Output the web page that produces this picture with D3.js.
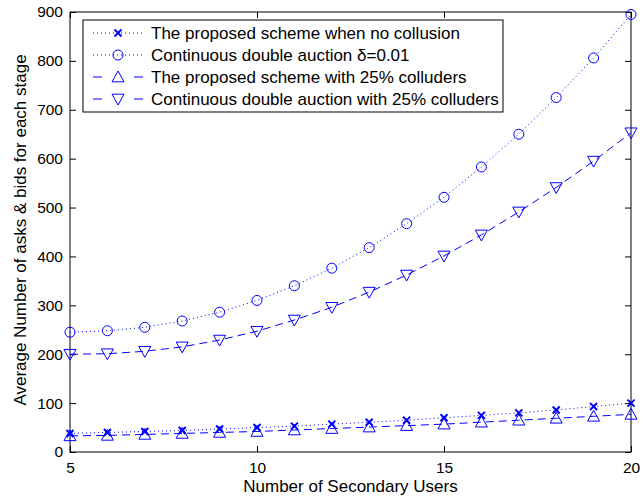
<!DOCTYPE html>
<html>
<head>
<meta charset="utf-8">
<script src="https://cdn.jsdelivr.net/npm/d3@7"></script>
<style>
  body { margin: 0; background: #fff; }
  text { font-family: "Liberation Sans", Arial, sans-serif; }
</style>
</head>
<body>
<svg id="chart"></svg>
<script>
const users = [5, 6, 7, 8, 9, 10, 11, 12, 13, 14, 15, 16, 17, 18, 19, 20];
const noCollusion = [38, 40, 42, 44, 47, 50, 53, 57, 61, 65, 70, 75, 80, 86, 93, 100];
const cdaDelta = [245, 248, 255, 268, 286, 310, 340, 376, 418, 467, 521, 583, 650, 725, 806, 895];
const proposedColluders = [33, 34, 36, 38, 40, 42, 45, 48, 51, 54, 57, 61, 65, 69, 73, 77];
const cdaColluders = [200, 201, 206, 215, 229, 247, 270, 296, 327, 362, 401, 444, 491, 541, 595, 653];
const xTicks = [5, 10, 15, 20];
const yTicks = [0, 100, 200, 300, 400, 500, 600, 700, 800, 900];

const series = [
    {name: "The proposed scheme when no collusion", values: noCollusion, marker: "x", dash: "1,3"},
    {name: "Continuous double auction \u03b4=0.01", values: cdaDelta, marker: "o", dash: "1,3"},
    {name: "The proposed scheme with 25% colluders", values: proposedColluders, marker: "up", dash: "8,5"},
    {name: "Continuous double auction with 25% colluders", values: cdaColluders, marker: "down", dash: "8,5"}
];

const W = 644, H = 496;
const m = {left: 70, right: 13, top: 12, bottom: 44};
const blue = "#0000ff";

let svg = d3.select("#chart").attr("width", W).attr("height", H);

let x = d3.scaleLinear().domain([5, 20]).range([m.left, W - m.right]);
let y = d3.scaleLinear().domain([0, 900]).range([H - m.bottom, m.top]);

// axes with inward ticks on all four sides
svg.append("g")
    .attr("transform", `translate(0,${H - m.bottom})`)
    .call(d3.axisBottom(x).tickValues(xTicks).tickSizeInner(-6).tickSizeOuter(0).tickPadding(10));
svg.append("g")
    .attr("transform", `translate(0,${m.top})`)
    .call(d3.axisTop(x).tickValues(xTicks).tickSizeInner(-6).tickSizeOuter(0).tickFormat(""));
svg.append("g")
    .attr("transform", `translate(${m.left},0)`)
    .call(d3.axisLeft(y).tickValues(yTicks).tickSizeInner(-6).tickSizeOuter(0).tickPadding(7));
svg.append("g")
    .attr("transform", `translate(${W - m.right},0)`)
    .call(d3.axisRight(y).tickValues(yTicks).tickSizeInner(-6).tickSizeOuter(0).tickFormat(""));

svg.selectAll(".domain").remove();
svg.selectAll(".tick line").attr("stroke", "#000");
svg.selectAll(".tick text").attr("font-size", "15.5px").attr("fill", "#000");

svg.append("rect")
    .attr("x", m.left).attr("y", m.top)
    .attr("width", W - m.left - m.right).attr("height", H - m.top - m.bottom)
    .attr("fill", "none").attr("stroke", "#000").attr("stroke-width", 1);

function drawMarker(g, type, cx, cy) {
    if (type === "o") {
        g.append("circle").attr("cx", cx).attr("cy", cy).attr("r", 5)
            .attr("fill", "none").attr("stroke", blue).attr("stroke-width", 1);
    } else if (type === "x") {
        let s = 3.5;
        g.append("path")
            .attr("d", `M${cx - s},${cy - s}L${cx + s},${cy + s}M${cx - s},${cy + s}L${cx + s},${cy - s}`)
            .attr("stroke", blue).attr("stroke-width", 2);
    } else {
        let s = 6, dir = type === "up" ? 1 : -1;
        g.append("path")
            .attr("d", `M${cx},${cy - dir * s}L${cx + s},${cy + dir * s * 0.8}L${cx - s},${cy + dir * s * 0.8}Z`)
            .attr("fill", "none").attr("stroke", blue).attr("stroke-width", 1);
    }
}

let line = d3.line().x((d, i) => x(users[i])).y(d => y(d));

series.forEach(s => {
    svg.append("path")
        .attr("d", line(s.values))
        .attr("fill", "none")
        .attr("stroke", blue)
        .attr("stroke-width", 1)
        .attr("stroke-dasharray", s.dash);
    let g = svg.append("g");
    s.values.forEach((v, i) => drawMarker(g, s.marker, x(users[i]), y(v)));
});

// legend
let lg = svg.append("g");
lg.append("rect")
    .attr("x", 83).attr("y", 20).attr("width", 420).attr("height", 92)
    .attr("fill", "#fff").attr("stroke", "#000").attr("stroke-width", 1);
series.forEach((s, i) => {
    let ly = 33 + i * 22;
    lg.append("line")
        .attr("x1", 93).attr("x2", 143).attr("y1", ly).attr("y2", ly)
        .attr("stroke", blue).attr("stroke-width", 1)
        .attr("stroke-dasharray", s.marker === "x" || s.marker === "o" ? "1,3" : "9,32,9");
    drawMarker(lg, s.marker, 118, ly);
    lg.append("text")
        .attr("x", 151).attr("y", ly).attr("dy", "0.35em")
        .attr("font-size", "17px").attr("fill", "#000")
        .text(s.name);
});

svg.append("text")
    .attr("x", (m.left + W - m.right) / 2).attr("y", 492)
    .attr("text-anchor", "middle").attr("font-size", "17px")
    .text("Number of Secondary Users");
svg.append("text")
    .attr("transform", `translate(26,230) rotate(-90)`)
    .attr("text-anchor", "middle").attr("font-size", "17px")
    .text("Average Number of asks & bids for each stage");
</script>
</body>
</html>
